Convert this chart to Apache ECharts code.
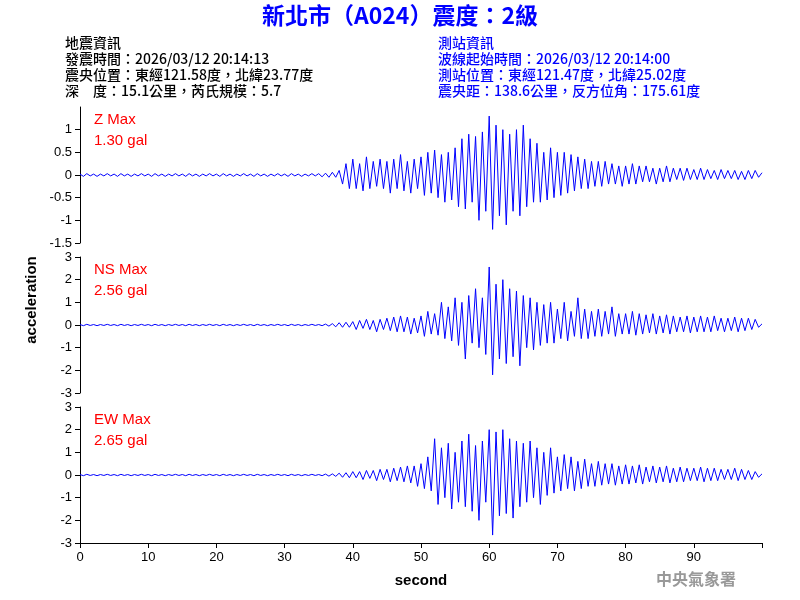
<!DOCTYPE html>
<html><head><meta charset="utf-8">
<script src="https://cdn.jsdelivr.net/npm/echarts@6/dist/echarts.min.js"></script>
<style>html,body{margin:0;padding:0;background:#fff}#c{width:800px;height:600px}</style>
</head><body><div id="c"></div>
<script>
const dt = 0.5;
const noise = [0.02,-0.03,0.03,-0.02,0.02,-0.03,0.02,-0.02,0.03,-0.02];
const zVals = [].concat(noise,noise,noise,noise,noise,noise,noise,[
0.03,-0.04,0.04,-0.05,0.06,-0.05,0.1,-0.2,0.25,-0.3,
0.35,-0.3,0.25,-0.35,0.4,-0.3,0.3,-0.25,0.35,-0.3,
0.3,-0.4,0.35,-0.3,0.45,-0.35,0.3,-0.4,0.35,-0.3,
0.4,-0.45,0.5,-0.4,0.55,-0.5,0.45,-0.6,0.5,-0.55,
0.6,-0.7,0.8,-0.75,0.9,-0.6,0.85,-1.0,0.95,-0.8,
1.3,-1.2,1.1,-0.9,1.0,-1.1,0.9,-0.8,1.0,-0.9,
1.1,-0.7,0.8,-0.6,0.7,-0.6,0.5,-0.55,0.6,-0.5,
0.5,-0.45,0.5,-0.4,0.45,-0.35,0.4,-0.3,0.35,-0.3,
0.3,-0.25,0.3,-0.25,0.3,-0.2,0.25,-0.2,0.2,-0.25,
0.2,-0.2,0.25,-0.2,0.2,-0.15,0.2,-0.15,0.15,-0.2,
0.15,-0.15,0.2,-0.15,0.15,-0.1,0.15,-0.12,0.15,-0.1,
0.12,-0.1,0.15,-0.1,0.12,-0.08,0.1,-0.1,0.12,-0.08,
0.1,-0.08,0.1,-0.1,0.08,-0.1,0.1,-0.08,0.1,-0.05,0.05]);
const nsVals = [].concat(noise,noise,noise,noise,noise,noise,noise,[
0.02,-0.03,0.04,-0.05,0.06,-0.08,0.1,-0.1,0.12,-0.1,
0.15,-0.2,0.2,-0.15,0.25,-0.2,0.2,-0.3,0.25,-0.2,
0.3,-0.25,0.35,-0.3,0.4,-0.3,0.35,-0.4,0.3,-0.35,
0.4,-0.5,0.6,-0.4,0.5,-0.45,1.0,-0.6,0.8,-0.7,
1.2,-0.9,1.0,-1.5,1.3,-0.8,1.6,-1.0,1.2,-1.3,
2.56,-2.2,1.8,-1.5,2.0,-1.7,1.6,-1.4,1.5,-1.8,
1.3,-1.0,1.2,-1.1,1.0,-0.9,0.9,-0.8,1.0,-0.8,
0.7,-0.6,1.0,-0.7,0.6,-0.5,1.2,-0.6,0.7,-0.6,
0.6,-0.5,0.7,-0.5,0.6,-0.4,0.8,-0.5,0.5,-0.4,
0.5,-0.4,0.6,-0.45,0.5,-0.4,0.45,-0.35,0.5,-0.4,
0.4,-0.35,0.45,-0.4,0.4,-0.3,0.35,-0.3,0.4,-0.35,
0.35,-0.3,0.4,-0.3,0.35,-0.3,0.4,-0.25,0.3,-0.3,
0.3,-0.25,0.35,-0.3,0.3,-0.25,0.3,-0.2,0.25,-0.1,0.05]);
const ewVals = [].concat(noise,noise,noise,noise,noise,noise,noise,[
0.02,-0.03,0.04,-0.05,0.05,-0.06,0.08,-0.1,0.1,-0.12,
0.15,-0.12,0.15,-0.2,0.2,-0.15,0.2,-0.25,0.25,-0.2,
0.25,-0.3,0.3,-0.25,0.35,-0.3,0.4,-0.35,0.4,-0.5,
0.5,-0.6,0.8,-0.7,1.6,-1.3,1.2,-1.0,1.4,-1.5,
1.0,-1.2,1.5,-1.4,1.8,-1.6,1.3,-2.0,1.5,-1.2,
2.0,-2.65,1.9,-1.8,2.0,-1.7,1.6,-1.9,1.5,-1.4,
1.4,-1.2,1.5,-1.0,1.2,-1.3,1.0,-0.9,1.2,-0.8,
0.8,-0.7,0.9,-0.6,0.8,-0.7,0.6,-0.6,0.7,-0.5,
0.5,-0.5,0.6,-0.45,0.5,-0.4,0.5,-0.45,0.4,-0.4,
0.45,-0.4,0.4,-0.35,0.45,-0.4,0.35,-0.3,0.4,-0.35,
0.35,-0.3,0.4,-0.35,0.3,-0.3,0.35,-0.3,0.3,-0.25,
0.3,-0.25,0.35,-0.3,0.3,-0.25,0.3,-0.25,0.25,-0.2,
0.25,-0.2,0.3,-0.25,0.25,-0.2,0.2,-0.2,0.15,-0.1,0.05]);
const panelNames = ['Z Max','NS Max','EW Max'];
const panelPeaks = ['1.30 gal','2.56 gal','2.65 gal'];
const xTicks = [0,10,20,30,40,50,60,70,80,90];

const toPairs = a => a.map((v,i)=>[i*dt,v]);
const series = [zVals,nsVals,ewVals];
const tops = [107,257,407], h = 136;
const F = 'Arial, "Liberation Sans", sans-serif';
const chart = echarts.init(document.getElementById('c'));
chart.setOption({
  animation:false,
  grid: tops.map(t=>({left:80,right:38,top:t,height:h})),
  xAxis: [0,1,2].map(i=>({type:'value',gridIndex:i,min:0,max:100,interval:10,
    show: i===2, splitLine:{show:false},
    axisLine:{onZero:false,lineStyle:{color:'#000'}},axisTick:{lineStyle:{color:'#000'}},
    axisLabel:{color:'#000',fontFamily:F,fontSize:13,formatter:v=>xTicks.includes(v)?v:''},
    name: i===2?'second':'', nameLocation:'middle', nameGap:30,
    nameTextStyle:{color:'#000',fontFamily:F,fontSize:15,fontWeight:'bold'}})),
  yAxis: [0,1,2].map(i=>({type:'value',gridIndex:i,min:i?-3:-1.5,max:i?3:1.5,interval:i?1:0.5,
    splitLine:{show:false},axisLine:{show:true,onZero:false,lineStyle:{color:'#000'}},
    axisTick:{show:true,lineStyle:{color:'#000'}},
    axisLabel:{color:'#000',fontFamily:F,fontSize:13,showMaxLabel:i!==0}})),
  series: series.map((a,i)=>({type:'line',xAxisIndex:i,yAxisIndex:i,data:toPairs(a),
    symbol:'none',lineStyle:{color:'#0000ff',width:1}})),
  graphic: [
    {type:'text',left:'center',top:4,style:{text:'新北市（A024）震度：2級',fill:'#0000ff',font:'bold 23px "Noto Sans CJK TC", sans-serif'}},
    {type:'text',left:65,top:35,style:{text:'地震資訊\n發震時間：2026/03/12 20:14:13\n震央位置：東經121.58度，北緯23.77度\n深　度：15.1公里，芮氏規模：5.7',fill:'#000',font:'500 14px "Noto Sans CJK TC", sans-serif',lineHeight:16}},
    {type:'text',left:438,top:35,style:{text:'測站資訊\n波線起始時間：2026/03/12 20:14:00\n測站位置：東經121.47度，北緯25.02度\n震央距：138.6公里，反方位角：175.61度',fill:'#0000ff',font:'500 14px "Noto Sans CJK TC", sans-serif',lineHeight:16}},
    {type:'text',x:32,y:300,rotation:Math.PI/2,style:{text:'acceleration',fill:'#000',font:'bold 15px Arial, sans-serif',align:'center',verticalAlign:'middle'}},
    {type:'text',left:656,top:571,style:{text:'中央氣象署',fill:'#999',font:'bold 16px "Noto Sans CJK TC", serif'}},
    ...tops.map((t,i)=>({type:'text',left:94,top:t+2,style:{text:panelNames[i]+'\n'+panelPeaks[i],fill:'#ff0000',font:'15px Arial, sans-serif',lineHeight:21}}))
  ]
});
</script></body></html>
